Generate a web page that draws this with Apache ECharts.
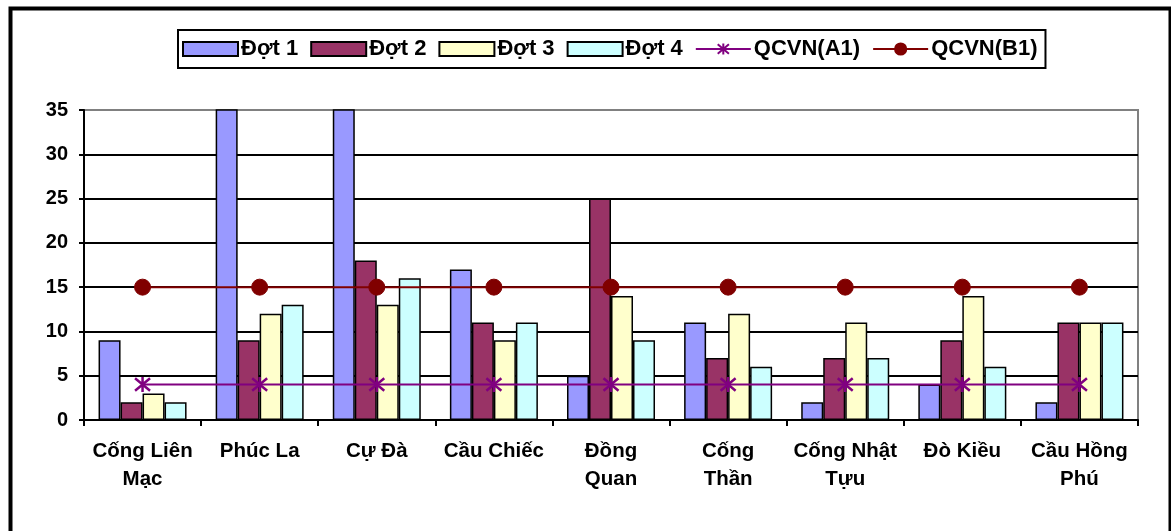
<!DOCTYPE html>
<html>
<head>
<meta charset="utf-8">
<script src="https://cdn.jsdelivr.net/npm/echarts@6/dist/echarts.min.js"></script>
<style>
html,body{margin:0;padding:0;background:#fff;}
#c{width:1171px;height:531px;}
</style>
</head>
<body>
<div id="c"></div>
<script>
const categories = ['Cống Liên\nMạc', 'Phúc La', 'Cự Đà', 'Cầu Chiếc', 'Đồng\nQuan', 'Cống\nThần', 'Cống Nhật\nTựu', 'Đò Kiều', 'Cầu Hồng\nPhú'];
const seriesNames = ['Đợt 1', 'Đợt 2', 'Đợt 3', 'Đợt 4', 'QCVN(A1)', 'QCVN(B1)'];
const dot1 = [9, 40, 40, 17, 5, 11, 2, 4, 2];
const dot2 = [2, 9, 18, 11, 25, 7, 7, 9, 11];
const dot3 = [3, 12, 13, 9, 14, 12, 11, 14, 11];
const dot4 = [2, 13, 16, 11, 9, 6, 7, 6, 11];
const qcvnA1 = [4, 4, 4, 4, 4, 4, 4, 4, 4];
const qcvnB1 = [15, 15, 15, 15, 15, 15, 15, 15, 15];
const yTicks = [0, 5, 10, 15, 20, 25, 30, 35];

const FONT = '"Liberation Sans", Arial, sans-serif';
const barColors = ['#9999FF', '#993366', '#FFFFCC', '#CCFFFF'];
const barData = [dot1, dot2, dot3, dot4];

const chart = echarts.init(document.getElementById('c'), null, {renderer: 'canvas'});

const barSeries = barData.map((d, i) => ({
  name: seriesNames[i],
  type: 'bar',
  data: d,
  barWidth: 22,
  barGap: '0%',
  clip: true,
  itemStyle: {color: barColors[i], borderColor: '#000', borderWidth: 1.5},
  emphasis: {disabled: true}
}));

const legendData = seriesNames.map((n, i) => i < 4 ? {name: n, icon: 'rect'} : {name: n});

const option = {
  animation: false,
  backgroundColor: '#fff',
  graphic: [{
    type: 'rect',
    left: 8, top: 6,
    shape: {width: 1160, height: 560},
    style: {fill: 'none', stroke: '#000', lineWidth: 4},
    silent: true
  }],
  legend: {
    top: 30,
    left: 178,
    data: legendData,
    itemWidth: 55,
    itemHeight: 14,
    itemGap: 12,
    padding: [8, 8, 8, 4],
    borderColor: '#000',
    borderWidth: 2,
    textStyle: {fontFamily: FONT, fontWeight: 'bold', fontSize: 22, color: '#000', padding: [0, 0, 0, -2]}
  },
  grid: {
    left: 84, right: 33, top: 110, bottom: 111,
    show: true,
    borderColor: '#808080',
    borderWidth: 2,
    containLabel: false
  },
  xAxis: {
    type: 'category',
    data: categories,
    boundaryGap: true,
    axisLine: {show: true, lineStyle: {color: '#000', width: 2}},
    axisTick: {show: true, length: 6, inside: false, lineStyle: {color: '#000', width: 2}},
    axisLabel: {
      interval: 0,
      margin: 17,
      fontFamily: FONT, fontWeight: 'bold', fontSize: 20.5, color: '#000',
      lineHeight: 28
    }
  },
  yAxis: {
    type: 'value',
    min: yTicks[0],
    max: yTicks[yTicks.length - 1],
    interval: 5,
    axisLine: {show: true, lineStyle: {color: '#000', width: 2}},
    axisTick: {show: true, length: 5, inside: false, lineStyle: {color: '#000', width: 2}},
    axisLabel: {margin: 16, fontFamily: FONT, fontWeight: 'bold', fontSize: 20, color: '#000'},
    splitLine: {show: true, lineStyle: {color: ['#000', '#000', '#000', '#000', '#000', '#000', '#000', '#808080'], width: 2}}
  },
  series: barSeries.concat([
    {
      name: seriesNames[4],
      type: 'line',
      data: qcvnA1,
      symbol: 'path://M0,0L10,10M10,0L0,10M5,-1L5,11',
      symbolSize: 15,
      lineStyle: {color: '#800080', width: 2},
      itemStyle: {color: '#800080', borderColor: '#800080', borderWidth: 2.5},
      emphasis: {disabled: true},
      z: 5
    },
    {
      name: seriesNames[5],
      type: 'line',
      data: qcvnB1,
      symbol: 'circle',
      symbolSize: 16,
      lineStyle: {color: '#800000', width: 2},
      itemStyle: {color: '#800000', borderColor: '#800000', borderWidth: 1},
      emphasis: {disabled: true},
      z: 5
    }
  ])
};
chart.setOption(option);
</script>
</body>
</html>
